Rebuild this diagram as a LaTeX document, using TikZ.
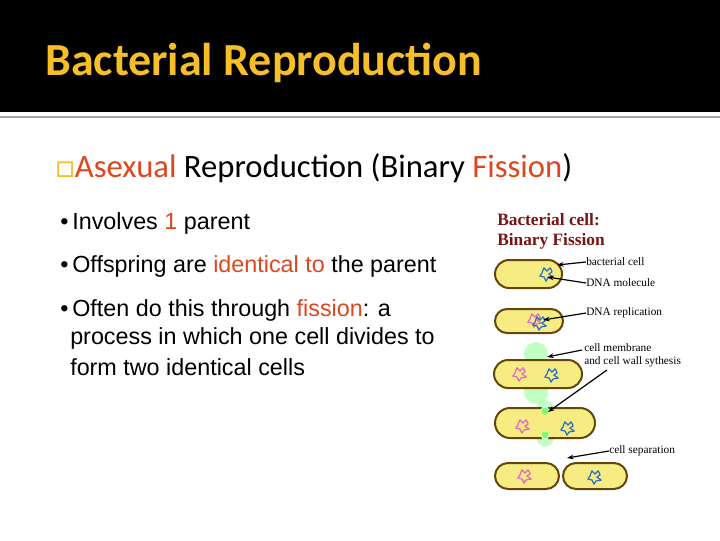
\documentclass[tikz,border=0pt]{standalone}
\usepackage{fontspec}
\setmainfont{Carlito}
\newfontfamily\arialf{Liberation Sans}
\newfontfamily\timesf{Liberation Serif}
\usetikzlibrary{arrows.meta,shapes.misc}
\definecolor{titleyel}{RGB}{246,190,40}
\definecolor{accent}{RGB}{222,70,30}
\definecolor{cellfill}{RGB}{246,236,130}
\definecolor{cellline}{RGB}{100,70,10}
\definecolor{dnablue}{RGB}{40,110,200}
\definecolor{dnapink}{RGB}{230,100,200}
\definecolor{darkred}{RGB}{120,20,20}
\tikzset{
  cellbox/.style={draw=cellline,line width=1.5pt,fill=cellfill,rounded rectangle,inner sep=0pt},
  lab/.style={font=\timesf\fontsize{8.5}{10}\selectfont,anchor=west,inner sep=0pt},
  arr/.style={-{Stealth[length=5pt,width=3.5pt]},line width=0.9pt},
  bul/.style={font=\arialf\fontsize{17.5}{20}\selectfont,anchor=west,inner sep=0pt,align=left},
  glow/.style={circle,inner sep=0pt,minimum size=18,fill=green!60!white,opacity=0.4},
}
\newcommand{\dna}[3]{\draw[#3,line width=0.9pt] plot[smooth cycle] coordinates {(#1-5,#2-1) (#1-3,#2-6) (#1,#2-3) (#1+3,#2-6) (#1+5,#2-2) (#1+2,#2) (#1+6,#2+3) (#1+1,#2+4) (#1-1,#2+7) (#1-3,#2+3) (#1-7,#2+2)};}
\begin{document}
\begin{tikzpicture}[x=0.75pt,y=-0.75pt]
\useasboundingbox (0,0) rectangle (720,540);
\fill[black] (0,0) rectangle (720,112);
\draw[gray!70,line width=1pt] (0,117) -- (720,117);
\node[anchor=west,inner sep=0,text=titleyel,font=\bfseries\fontsize{34.5}{38}\selectfont] (title) at (45,63) {Bacterial Reproduction};
\node[anchor=west,inner sep=0,font=\fontsize{24.5}{28}\selectfont] (head) at (55,168) {\textcolor{titleyel}{\char"25A1}\textcolor{accent}{Asexual} Reproduction (Binary \textcolor{accent}{Fission})};
\node[bul] (b1) at (60,223) {\textbullet\,Involves \textcolor{accent}{1} parent};
\node[bul] (b2) at (60,266) {\textbullet\,Offspring are \textcolor{accent}{identical to} the parent};
\node[bul] (b3) at (60,310) {\textbullet\,Often do this through \textcolor{accent}{fission}: a};
\node[bul] (b4) at (70,338) {process in which one cell divides to};
\node[bul] (b5) at (70,367) {form two identical cells};
% diagram
\node[anchor=west,inner sep=0,align=left,text=darkred,font=\timesf\bfseries\fontsize{13}{15}\selectfont] (dt) at (497,231) {Bacterial cell:\\Binary Fission};
\node[cellbox,minimum width=67*0.75pt,minimum height=28*0.75pt] (c1) at (528.5,274) {};
\dna{547}{274}{dnablue}
\node[cellbox,minimum width=68*0.75pt,minimum height=24*0.75pt] (c2) at (529,321) {};
\dna{535}{320}{dnapink}\dna{540}{323}{dnablue}
\node[glow] (g1) at (536,354) {};
\node[glow] (g2) at (536,392) {};
\node[cellbox,minimum width=88*0.75pt,minimum height=28*0.75pt] (c3) at (538,374) {};
\dna{520}{374}{dnapink}\dna{552}{375}{dnablue}
\node[glow,minimum size=13] (g3) at (545,409) {};
\node[glow,minimum size=13] (g4) at (545,438) {};
\node[cellbox,minimum width=100*0.75pt,minimum height=30*0.75pt] (c4) at (545,423) {};
\fill[white] (545,410) circle (4);\fill[green!55!white] (545,411) circle (3.5);
\fill[white] (545,436) circle (4);\fill[green!55!white] (545,435) circle (3.5);
\dna{523}{426}{dnapink}\dna{568}{428}{dnablue}
\node[cellbox,minimum width=64*0.75pt,minimum height=26*0.75pt] (c5) at (527,476) {};
\node[cellbox,minimum width=64*0.75pt,minimum height=26*0.75pt] (c6) at (595,476) {};
\dna{525}{476}{dnapink}\dna{595}{477}{dnablue}
\node[lab] (l1) at (586,262) {bacterial cell};
\node[lab] (l2) at (586,283) {DNA molecule};
\node[lab] (l3) at (586,313) {DNA replication};
\node[lab,align=left] (l4) at (584,355) {cell membrane\\and cell wall sythesis};
\node[lab] (l5) at (609,451) {cell separation};
\coordinate (t1) at (557,265);\coordinate (t2) at (547,277);\coordinate (t3) at (543,320);
\coordinate (t4) at (547,357);\coordinate (t5) at (548,412);\coordinate (t6) at (567,458);
\coordinate (s5) at (607,370);
\draw[arr] (l1.west) -- (t1);
\draw[arr] (l2.west) -- (t2);
\draw[arr] (l3.west) -- (t3);
\draw[arr] (582,350) -- (t4);
\draw[arr] (s5) -- (t5);
\draw[arr] (l5.west) -- (t6);
\end{tikzpicture}
\end{document}
